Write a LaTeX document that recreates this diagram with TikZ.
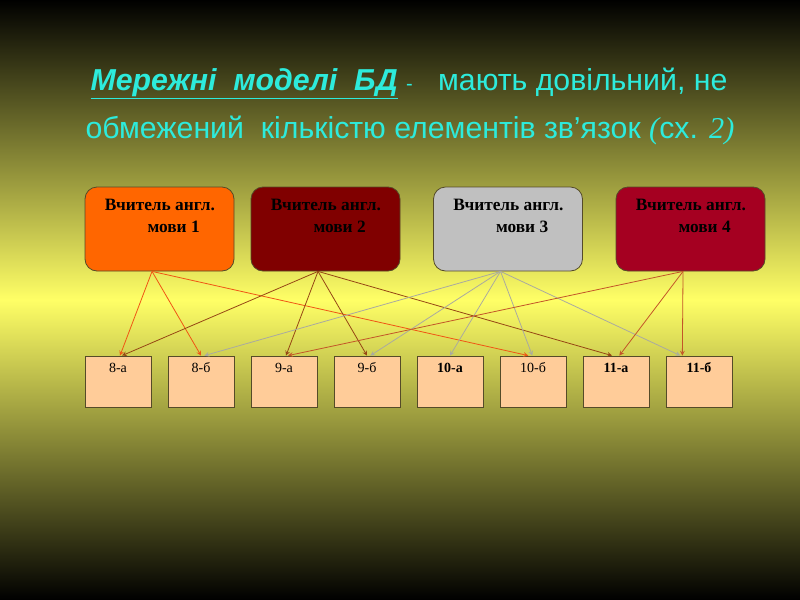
\documentclass[tikz,border=0pt]{standalone}
\usepackage{fontspec}
\setmainfont{Liberation Serif}
\newfontfamily\titlesans{Liberation Sans}
\usepackage{tikz}
\usetikzlibrary{shapes,arrows,positioning,calc}

\definecolor{titlecyan}{RGB}{45,235,220}
\definecolor{bgyellow}{RGB}{255,255,102}
\definecolor{edgeline}{RGB}{85,75,40}
\definecolor{teachA}{RGB}{255,102,0}
\definecolor{teachB}{RGB}{128,0,0}
\definecolor{teachC}{RGB}{192,192,192}
\definecolor{teachD}{RGB}{165,0,33}
\definecolor{classfill}{RGB}{255,204,153}
\definecolor{lineA}{RGB}{240,85,20}
\definecolor{lineB}{RGB}{150,70,20}
\definecolor{lineC}{RGB}{170,170,160}
\definecolor{lineD}{RGB}{195,85,40}

\tikzset{
  teacher/.style={draw=edgeline, rounded corners=9pt, minimum width=111.75pt, minimum height=63pt, line width=0.6pt},
  classbox/.style={draw=edgeline, fill=classfill, minimum width=49.5pt, minimum height=38.25pt, line width=0.6pt},
  link/.style={->, >=stealth, line width=0.6pt}
}

\begin{document}
\begin{tikzpicture}[x=0.75pt, y=-0.75pt]

% Background
\shade[top color=black, bottom color=bgyellow] (0,0) rectangle (800,300);
\shade[top color=bgyellow, bottom color=black] (0,300) rectangle (800,600);
\useasboundingbox (0,0) rectangle (800,600);

% Title
\node[anchor=base, inner sep=0pt, text=titlecyan, font=\titlesans\fontsize{22.7}{27}\selectfont] (title1) at (409,90)
  {\underline{\textbf{\textit{Мережні\ \ моделі\ \ БД}}} {\fontsize{15}{17}\selectfont -}\ \ \ мають довільний, не};
\node[anchor=base, inner sep=0pt, text=titlecyan, font=\titlesans\fontsize{22.7}{27}\selectfont] (title2) at (410,138)
  {обмежений\ \ кількістю елементів зв’язок {\rmfamily\itshape (}сх. {\rmfamily\itshape 2)}};

% Teachers
\foreach \x/\col [count=\i] in {159.5/teachA, 325.5/teachB, 508/teachC, 690.5/teachD} {
  \node[teacher, fill=\col,
    label={[anchor=north west, align=left, inner sep=0pt, xshift=15pt, yshift=-9.5pt,
      font=\bfseries\fontsize{13}{16.5}\selectfont]north west:Вчитель англ.\\\hspace*{32pt}мови \i}]
    (t\i) at (\x,229) {};
  \coordinate (t\i o) at ([xshift=-5.6pt]t\i.south);
}

% Classes
\foreach \lbl [count=\i] in {8-а, 8-б, 9-а, 9-б, {\bfseries 10-а}, 10-б, {\bfseries 11-а}, {\bfseries 11-б}} {
  \node[classbox,
    label={[anchor=base, inner sep=0pt, yshift=-12.75pt, font=\fontsize{10.5}{12}\selectfont]north:\lbl}]
    (c\i) at ({118+83*(\i-1)},381.5) {};
}

% Links
\draw[link, lineA] (t1o) -- ([xshift=1.5pt]c1.north);
\draw[link, lineA] (t1o) -- (c2.north);
\draw[link, lineA] (t1o) -- ([xshift=-3.5pt]c6.north);

\draw[link, lineB] (t2o) -- ([xshift=3pt]c1.north);
\draw[link, lineB] (t2o) -- ([xshift=1.5pt]c3.north);
\draw[link, lineB] (t2o) -- (c4.north);
\draw[link, lineB] (t2o) -- ([xshift=-3pt]c7.north);

\draw[link, lineC] (t3o) -- ([xshift=2.5pt]c2.north);
\draw[link, lineC] (t3o) -- ([xshift=2.5pt]c4.north);
\draw[link, lineC] (t3o) -- (c5.north);
\draw[link, lineC] (t3o) -- ([xshift=-0.5pt]c6.north);
\draw[link, lineC] (t3o) -- ([xshift=-14pt]c8.north);

\draw[link, lineD] (t4o) -- ([xshift=3pt]c3.north);
\draw[link, lineD] (t4o) -- ([xshift=2.5pt]c7.north);
\draw[link, lineD] (t4o) -- ([xshift=-12.5pt]c8.north);

\end{tikzpicture}
\end{document}
